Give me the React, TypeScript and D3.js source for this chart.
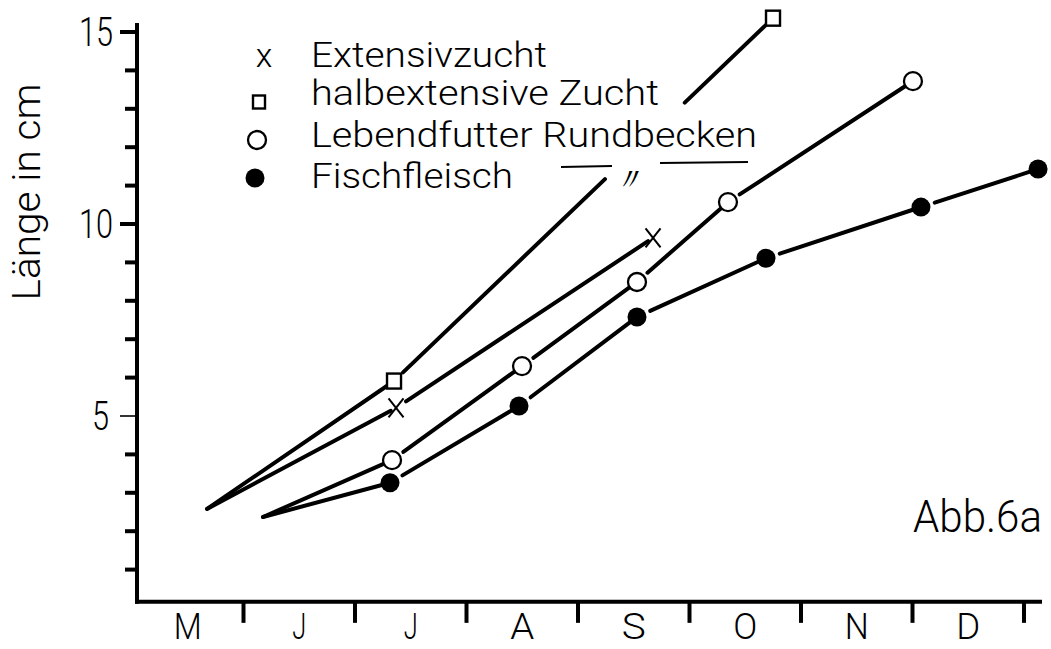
import React from 'react';
import * as d3 from 'd3';

// ---- data ----
const months = ['M', 'J', 'J', 'A', 'S', 'O', 'N', 'D'];
const yMajor = [5, 10, 15];
const yMajorLabels = ['5', '10', '15'];
const yMinor = [1, 2, 3, 4, 6, 7, 8, 9, 11, 12, 13, 14];

// month position (0 = start of May) and length in cm
const extensivM = [0.673, 2.368, 4.673];
const extensivV = [2.58, 5.21, 9.64];
const halbM = [0.673, 2.35, 5.749];
const halbV = [2.58, 5.91, 15.36];
const lebendM = [1.175, 2.332, 3.498, 4.529, 5.345, 7.004];
const lebendV = [2.37, 3.85, 6.3, 8.49, 10.57, 13.72];
const fischM = [1.175, 2.314, 3.471, 4.529, 5.686, 7.076, 8.126];
const fischV = [2.37, 3.26, 5.26, 7.58, 9.11, 10.44, 11.43];

const legendLabels = ['Extensivzucht', 'halbextensive Zucht', 'Lebendfutter Rundbecken', 'Fischfleisch'];
const yTitle = 'Länge in cm';
const figLabel = 'Abb.6a';
// value range in which the 'halbextensive' line is interrupted by the legend
const halbGap = [11.17, 13.16];

const FONT = "Roboto, 'DejaVu Sans', sans-serif";

export default function App() {
  const x = d3.scaleLinear().domain([0, 8]).range([132, 1024]);
  const y = d3.scaleLinear().domain([0, 15]).range([608, 32]);
  const axisY = y(0.16);
  const axisX = 137;

  type S = { m: number[]; v: number[]; kind: string; r: number };
  const series: S[] = [
    { m: extensivM, v: extensivV, kind: 'x', r: 7 },
    { m: halbM, v: halbV, kind: 'sq', r: 7.5 },
    { m: lebendM, v: lebendV, kind: 'o', r: 9 },
    { m: fischM, v: fischV, kind: 'f', r: 9.5 },
  ];

  const marker = (kind: string, cx: number, cy: number, key: string, small = false) => {
    if (kind === 'x') {
      const w = small ? 6 : 7.5, h = small ? 7 : 9.5;
      return (
        <g key={key} stroke="#000" strokeWidth={small ? 1.8 : 2} fill="none">
          <line x1={cx - w} y1={cy - h} x2={cx + w} y2={cy + h} />
          <line x1={cx + w} y1={cy - h} x2={cx - w} y2={cy + h} />
        </g>
      );
    }
    if (kind === 'sq') {
      const w = small ? 12 : 14, h = small ? 13 : 15;
      return <rect key={key} x={cx - w / 2} y={cy - h / 2} width={w} height={h} fill="#fff" stroke="#000" strokeWidth={2.4} />;
    }
    if (kind === 'o') {
      return <circle key={key} cx={cx} cy={cy} r={9} fill="#fff" stroke="#000" strokeWidth={2.3} />;
    }
    return <circle key={key} cx={cx} cy={cy} r={9.5} fill="#000" />;
  };

  const lines: JSX.Element[] = [];
  const marks: JSX.Element[] = [];
  series.forEach((s, si) => {
    const pts = s.m.map((m, i) => [x(m), y(s.v[i])]);
    for (let i = 1; i < pts.length; i++) {
      const [x0, y0] = pts[i - 1];
      const [x1, y1] = pts[i];
      const len = Math.hypot(x1 - x0, y1 - y0);
      const ux = (x1 - x0) / len, uy = (y1 - y0) / len;
      const a = i - 1 === 0 ? 0 : s.r + 5;
      const b = s.r - 1;
      const sx = x0 + ux * a, sy = y0 + uy * a;
      const ex = x1 - ux * b, ey = y1 - uy * b;
      if (s.kind === 'sq' && i === 2) {
        const g0 = y(halbGap[0]), g1 = y(halbGap[1]);
        const t0 = (g0 - sy) / (ey - sy), t1 = (g1 - sy) / (ey - sy);
        lines.push(<line key={`l${si}-${i}a`} x1={sx} y1={sy} x2={sx + (ex - sx) * t0} y2={g0} />);
        lines.push(<line key={`l${si}-${i}b`} x1={sx + (ex - sx) * t1} y1={g1} x2={ex} y2={ey} />);
      } else {
        lines.push(<line key={`l${si}-${i}`} x1={sx} y1={sy} x2={ex} y2={ey} />);
      }
    }
    pts.slice(1).forEach(([px, py], i) => marks.push(marker(s.kind, px, py, `m${si}-${i}`)));
  });

  const legendBase = [67, 105, 147, 188];
  const legendWidths = [236, 348, 446, 202];
  const legendMarkX = [264, 259, 257, 255];
  const legendMarkDy = [-9, -3, -7, -10];

  return (
    <svg width={1051} height={649} style={{ display: 'block', position: 'absolute', left: 0, top: 0 }} fontFamily={FONT}>
      <rect width={1051} height={649} fill="#fff" />
      {/* axes */}
      <g stroke="#000" strokeWidth={4} strokeLinecap="butt">
        <line x1={axisX} y1={23} x2={axisX} y2={axisY + 2} />
        <line x1={axisX - 2} y1={axisY} x2={1042} y2={axisY} />
        {yMajor.filter(v => v !== 5).map(v => (
          <line key={`ym${v}`} x1={120} y1={y(v)} x2={axisX} y2={y(v)} />
        ))}
        {yMinor.map(v => (
          <line key={`yn${v}`} x1={125} y1={y(v)} x2={axisX} y2={y(v)} />
        ))}
        {d3.range(1, 9).map(i => (
          <line key={`xt${i}`} x1={x(i)} y1={axisY} x2={x(i)} y2={axisY + 21} />
        ))}
      </g>
      <line x1={120} y1={y(5)} x2={axisX} y2={y(5)} stroke="#000" strokeWidth={1.6} />
      {/* y tick labels */}
      {yMajor.map((v, i) => (
        <text key={`yl${v}`} x={i === 0 ? 109 : 113} y={y(v) + 14} textAnchor="end" fontSize={40} fontWeight={300}
          textLength={i === 0 ? 17 : 34} lengthAdjust="spacingAndGlyphs">{yMajorLabels[i]}</text>
      ))}
      {/* month labels */}
      {months.map((mo, i) => (
        <text key={`mo${i}`} x={x(i + 0.5)} y={639} textAnchor="middle" fontSize={36} fontWeight={300}
          textLength={mo === 'M' ? 28 : mo === 'J' ? 14 : 24} lengthAdjust="spacingAndGlyphs">{mo}</text>
      ))}
      {/* y title */}
      <text transform="translate(40,192) rotate(-90)" textAnchor="middle" fontSize={38} fontWeight={300}
        textLength={217} lengthAdjust="spacingAndGlyphs">{yTitle}</text>
      {/* data lines */}
      <g stroke="#000" strokeWidth={4} strokeLinecap="round">{lines}</g>
      {marks}
      {/* legend */}
      {legendLabels.map((lab, i) => (
        <g key={`lg${i}`}>
          {i === 0 ? (
            <text x={legendMarkX[0]} y={legendBase[0]} textAnchor="middle" fontSize={34} fontWeight={300}>x</text>
          ) : (
            marker(series[i].kind, legendMarkX[i], legendBase[i] + legendMarkDy[i], `lm${i}`, true)
          )}
          <text x={311} y={legendBase[i]} fontSize={35} fontWeight={300} textLength={legendWidths[i]} lengthAdjust="spacingAndGlyphs">{lab}</text>
        </g>
      ))}
      {/* ditto marks */}
      <g stroke="#000" strokeWidth={2}>
        <line x1={561} y1={167} x2={612} y2={166} />
        <line x1={660} y1={163} x2={748} y2={162} />
      </g>
      <text x={628} y={190} textAnchor="middle" fontSize={32} fontStyle="italic" fontWeight={300}>〃</text>
      {/* figure label */}
      <text x={913} y={532} fontSize={44} fontWeight={300} textLength={129} lengthAdjust="spacingAndGlyphs">{figLabel}</text>
    </svg>
  );
}
